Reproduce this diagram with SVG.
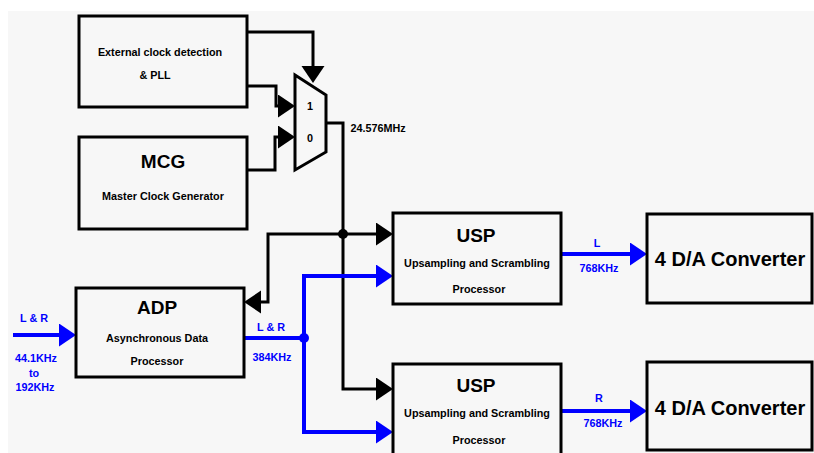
<svg xmlns="http://www.w3.org/2000/svg" width="814" height="453" viewBox="0 0 814 453">
<defs>
<style>
.box{fill:#f7f7f7;stroke:#000;stroke-width:3}
.k{fill:none;stroke:#000;stroke-width:3}
.b{fill:none;stroke:#0000ff;stroke-width:4}
text{font-family:"Liberation Sans",Arial,sans-serif;font-weight:bold;text-anchor:middle}
.big{font-size:19px;fill:#000}
.sm{font-size:10.8px;fill:#000}
.bl{font-size:10.8px;fill:#0000ff}
.dac{font-size:20px;fill:#000}
</style>
<marker id="ak" markerUnits="userSpaceOnUse" markerWidth="18" markerHeight="24" refX="9" refY="11.5" orient="auto" viewBox="0 0 18 24">
<path d="M0,0 L17,11.5 L0,23 Z" fill="#000"/>
</marker>
<marker id="ab" markerUnits="userSpaceOnUse" markerWidth="18" markerHeight="24" refX="9" refY="11.5" orient="auto" viewBox="0 0 18 24">
<path d="M0,0 L17,11.5 L0,23 Z" fill="#0000ff"/>
</marker>
</defs>
<rect x="0" y="0" width="814" height="453" fill="#fff"/>
<rect x="8" y="11" width="806" height="442" fill="#f7f7f7"/>

<g id="connectors">
<path class="k" d="M247,32 H313 V75" marker-end="url(#ak)"/>
<path class="k" d="M247,86 H276 V106 H287" marker-end="url(#ak)"/>
<path class="k" d="M247,170 H275 V137 H287" marker-end="url(#ak)"/>
<path class="k" d="M326,123 H343 V389 H385" marker-end="url(#ak)"/>
<path class="k" d="M343,234 H385" marker-end="url(#ak)"/>
<path class="k" d="M343,234 H268 V302 H252" marker-end="url(#ak)"/>
<circle cx="343" cy="234" r="5" fill="#000"/>
<path class="b" d="M13,335 H68" marker-end="url(#ab)"/>
<path class="b" d="M244,338 H304"/>
<path class="b" d="M304,338 V276 H385" marker-end="url(#ab)"/>
<path class="b" d="M304,338 V432 H385" marker-end="url(#ab)"/>
<path class="b" d="M561,254 H639" marker-end="url(#ab)"/>
<path class="b" d="M561,411 H639" marker-end="url(#ab)"/>
<circle cx="304" cy="338" r="5" fill="#0000ff"/>
<text class="sm" x="378" y="132">24.576MHz</text>
<text class="bl" x="34" y="322">L &amp; R</text>
<text class="bl" x="36" y="362">44.1KHz</text>
<text class="bl" x="34" y="377">to</text>
<text class="bl" x="35" y="391">192KHz</text>
<text class="bl" x="271" y="331">L &amp; R</text>
<text class="bl" x="272" y="361">384KHz</text>
<text class="bl" x="597" y="247">L</text>
<text class="bl" x="599" y="272">768KHz</text>
<text class="bl" x="599" y="402">R</text>
<text class="bl" x="603" y="427">768KHz</text>
</g>

<g id="ext">
<rect class="box" x="79" y="16" width="168" height="91"/>
<text class="sm" x="160" y="56">External clock detection</text>
<text class="sm" x="155" y="79">&amp; PLL</text>
</g>
<g id="mcg">
<rect class="box" x="79" y="137" width="168" height="92"/>
<text class="big" x="163" y="168">MCG</text>
<text class="sm" x="163" y="200">Master Clock Generator</text>
</g>
<g id="mux">
<polygon class="box" points="295,75 326,95 326,152 295,170"/>
<text class="sm" x="310" y="110">1</text>
<text class="sm" x="310" y="142">0</text>
</g>
<g id="adp">
<rect class="box" x="76" y="288" width="168" height="89"/>
<text class="big" x="157" y="314">ADP</text>
<text class="sm" x="157" y="342">Asynchronous Data</text>
<text class="sm" x="157" y="365">Processor</text>
</g>
<g id="usp1">
<rect class="box" x="393" y="213" width="168" height="91"/>
<text class="big" x="476" y="242">USP</text>
<text class="sm" x="477" y="267">Upsampling and Scrambling</text>
<text class="sm" x="479" y="293">Processor</text>
</g>
<g id="usp2">
<rect class="box" x="393" y="364" width="168" height="100"/>
<text class="big" x="476" y="392">USP</text>
<text class="sm" x="477" y="417">Upsampling and Scrambling</text>
<text class="sm" x="479" y="444">Processor</text>
</g>
<g id="dac1">
<rect class="box" x="647" y="214" width="165" height="89"/>
<text class="dac" x="730" y="266">4 D/A Converter</text>
</g>
<g id="dac2">
<rect class="box" x="647" y="362" width="165" height="88"/>
<text class="dac" x="730" y="415">4 D/A Converter</text>
</g>
</svg>
